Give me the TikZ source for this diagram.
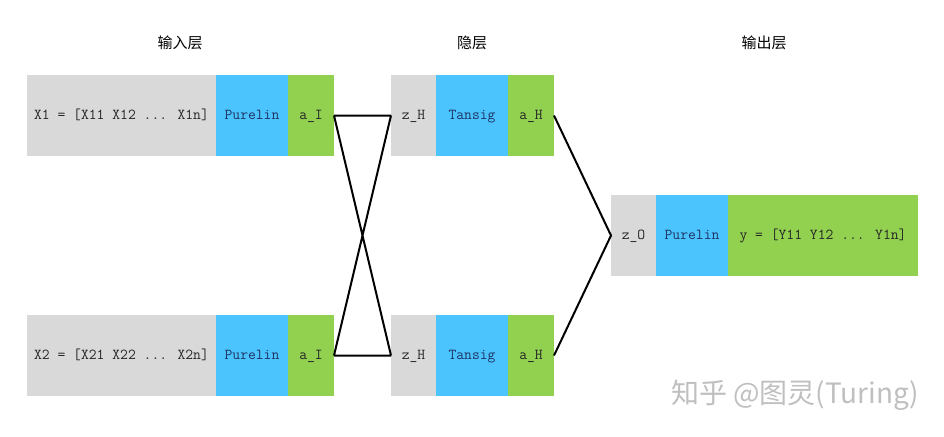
\documentclass[tikz,border=0pt]{standalone}
\usepackage{fontspec}
\newfontfamily\cjk{Noto Sans CJK SC}
\usetikzlibrary{positioning}
\definecolor{cellgray}{HTML}{D9D9D9}
\definecolor{cellblue}{HTML}{4BC4FE}
\definecolor{cellgreen}{HTML}{92D050}
\definecolor{fnnavy}{HTML}{1F3464}
\begin{document}
\begin{tikzpicture}[x=1pt, y=-1pt,
    cell/.style={inner sep=0pt, outer sep=0pt, minimum height=81pt, text height=10pt, text depth=3pt, font=\ttfamily\fontsize{15.2}{18}\selectfont, text=black!85},
    graycell/.style={cell, fill=cellgray},
    bluecell/.style={cell, fill=cellblue, text=fnnavy, minimum width=72pt},
    greencell/.style={cell, fill=cellgreen},
    title/.style={font=\cjk\fontsize{15}{18}\selectfont},
    wire/.style={line width=2pt, line join=round}]
\useasboundingbox (0,0) rectangle (944,436);
% titles
\node[title] (tin) at (180,43) {输入层};
\node[title] (thid) at (472,43) {隐层};
\node[title] (tout) at (764,43) {输出层};
% input layer
\node[graycell, minimum width=189pt, anchor=north west] (x1) at (27,75) {X1 = [X11 X12 ... X1n]};
\node[bluecell, right=0pt of x1] (p1) {Purelin};
\node[greencell, minimum width=46pt, right=0pt of p1] (aI1) {a\_I};
\node[graycell, minimum width=189pt, anchor=north west] (x2) at (27,315) {X2 = [X21 X22 ... X2n]};
\node[bluecell, right=0pt of x2] (p2) {Purelin};
\node[greencell, minimum width=46pt, right=0pt of p2] (aI2) {a\_I};
% hidden layer
\node[graycell, minimum width=45pt, anchor=north west] (zH1) at (391,75) {z\_H};
\node[bluecell, right=0pt of zH1] (t1) {Tansig};
\node[greencell, minimum width=46pt, right=0pt of t1] (aH1) {a\_H};
\node[graycell, minimum width=45pt, anchor=north west] (zH2) at (391,315) {z\_H};
\node[bluecell, right=0pt of zH2] (t2) {Tansig};
\node[greencell, minimum width=46pt, right=0pt of t2] (aH2) {a\_H};
% output layer
\node[graycell, minimum width=45pt, anchor=north west] (zO) at (611,195) {z\_O};
\node[bluecell, right=0pt of zO] (p3) {Purelin};
\node[greencell, minimum width=190pt, right=0pt of p3] (y) {y = [Y11 Y12 ... Y1n]};
% connections
\draw[wire] (aI1.east) -- (zH1.west) (aI1.east) -- (zH2.west)
            (aI2.east) -- (zH1.west) (aI2.east) -- (zH2.west);
\draw[wire] (aH1.east) -- (zO.west) -- (aH2.east);
\node[font=\cjk\fontsize{28}{32}\selectfont, text=black!25] (mark) at (795,395) {知乎 @图灵(Turing)};
\end{tikzpicture}
\end{document}
